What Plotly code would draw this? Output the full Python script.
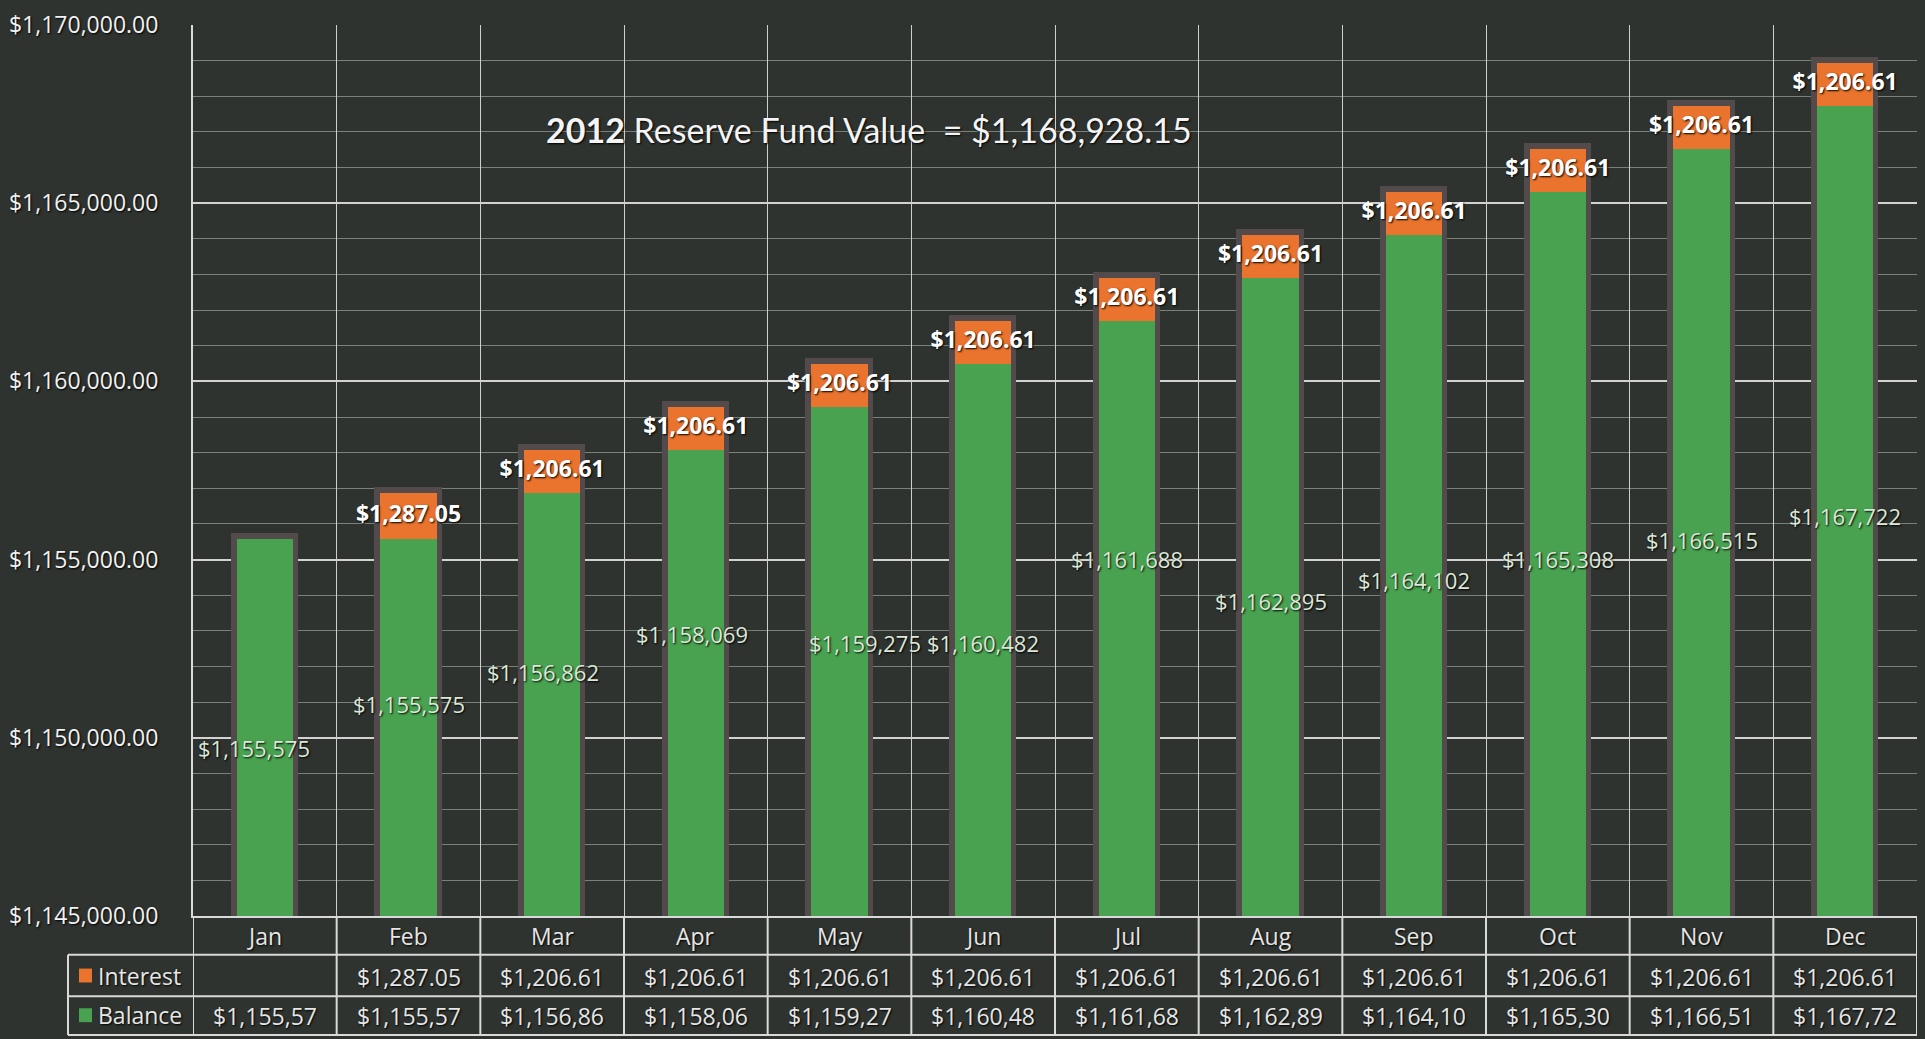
import plotly.graph_objects as go

# ---------------- data ----------------
months = ["Jan", "Feb", "Mar", "Apr", "May", "Jun", "Jul", "Aug", "Sep", "Oct", "Nov", "Dec"]
balance = [1155575, 1155575, 1156862, 1158069, 1159275, 1160482,
           1161688, 1162895, 1164102, 1165308, 1166515, 1167722]
interest = [None, 1287.05, 1206.61, 1206.61, 1206.61, 1206.61,
            1206.61, 1206.61, 1206.61, 1206.61, 1206.61, 1206.61]
y_ticks = [1145000, 1150000, 1155000, 1160000, 1165000, 1170000]
title_year = "2012"
title_rest = "Reserve Fund Value \u00a0= $1,168,928.15"
row_names = ["Interest", "Balance"]

# label nudges (pixels) for the balance labels, as placed in the original
bal_dy = [-20, 24, 33, 49, 19, -3, 60, -4, -4, -5, -7, -5]
bal_dx = [-11, 0, -9, -4, 25, 0, 0, 0, 0, 0, 0, 0]

# ---------------- style ----------------
W, H = 1925, 1039
L, R, T, B = 193, 1917, 18, 916
BG = "#2e332f"
GREEN = "#48a250"
ORANGE = "#ea742d"
FRAME = "#524a4b"
LINE = "#d9d9d9"
FONT = "Open Sans"
SHADOW = "1px 1px 2px #000000"


def px(x):
    return (x - L) / (R - L)


def py(y):
    return (B - y) / (B - T)


totals = [b + (i or 0) for b, i in zip(balance, interest)]

fig = go.Figure()
fig.add_trace(go.Bar(x=months, y=totals, width=0.39,
                     marker=dict(color=FRAME, line=dict(color=FRAME, width=11)),
                     hoverinfo="skip", showlegend=False))
fig.add_trace(go.Bar(x=months, y=balance, width=0.39, name="Balance",
                     marker=dict(color=GREEN, line=dict(width=0)), showlegend=False))
fig.add_trace(go.Bar(x=months, y=interest, base=balance, width=0.39, name="Interest",
                     marker=dict(color=ORANGE, line=dict(width=0)), showlegend=False))

# interest labels centred on the orange segments
ix = [m for m, i in zip(months, interest) if i is not None]
iy = [b + i / 2 for b, i in zip(balance, interest) if i is not None]
itxt = [f"${i:,.2f}" for i in interest if i is not None]
fig.add_trace(go.Scatter(x=ix, y=iy, mode="text", text=itxt, showlegend=False,
                         textfont=dict(family=FONT, size=23, color="#ffffff",
                                       weight="bold", shadow=SHADOW),
                         hoverinfo="skip", cliponaxis=False))

annotations = []
# balance labels
for k, (m, b) in enumerate(zip(months, balance)):
    annotations.append(dict(x=m, y=(y_ticks[0] + b) / 2, xref="x", yref="y",
                            text=f"${b:,}", showarrow=False,
                            xanchor="center", yanchor="middle",
                            xshift=bal_dx[k], yshift=bal_dy[k],
                            font=dict(family=FONT, size=22, color="#dde8d9", shadow=SHADOW)))

# title
annotations.append(dict(x=px(869), y=py(123), xref="paper", yref="paper",
                        xanchor="center", yanchor="middle",
                        text=f"<b>{title_year}</b> {title_rest}", showarrow=False,
                        font=dict(family="Lato", size=34, color="#f4f4f4", shadow=SHADOW)))

# data table text
TFONT = dict(family=FONT, size=23, color="#e6e6e6", shadow=SHADOW)
for k, m in enumerate(months):
    annotations.append(dict(x=k, y=py(936), xref="x", yref="paper", text=m,
                            xanchor="center", yanchor="middle", showarrow=False, font=TFONT))
    if interest[k] is not None:
        annotations.append(dict(x=k, y=py(977), xref="x", yref="paper",
                                text=f"${interest[k]:,.2f}", showarrow=False,
                                xanchor="center", yanchor="middle", font=TFONT))
    annotations.append(dict(x=k, y=py(1017), xref="x", yref="paper",
                            text=f"${balance[k]:,}"[:-1], showarrow=False,
                            xanchor="center", yanchor="middle", font=TFONT))

for name, yc in zip(row_names, [976, 1016]):
    annotations.append(dict(x=px(96), y=py(yc), xref="paper", yref="paper", text=name,
                            xanchor="left", yanchor="middle", showarrow=False, font=TFONT))

shapes = []
# table lines
for yl in [955, 997, 1036]:
    shapes.append(dict(type="line", xref="paper", yref="paper", x0=px(68), x1=px(1917),
                       y0=py(yl), y1=py(yl), line=dict(color=LINE, width=2)))
for k in range(13):
    shapes.append(dict(type="line", xref="x", yref="paper", x0=k - 0.5, x1=k - 0.5,
                       y0=py(916), y1=py(1036), line=dict(color=LINE, width=2)))
shapes.append(dict(type="line", xref="paper", yref="paper", x0=px(68), x1=px(68),
                   y0=py(955), y1=py(1036), line=dict(color=LINE, width=2)))
# legend keys
for col, yc in zip([ORANGE, GREEN], [976, 1016]):
    shapes.append(dict(type="rect", xref="paper", yref="paper",
                       x0=px(79), x1=px(92), y0=py(yc - 7), y1=py(yc + 7),
                       fillcolor=col, line=dict(width=0)))

fig.update_layout(
    width=W, height=H, barmode="overlay", bargap=0,
    paper_bgcolor=BG, plot_bgcolor=BG,
    margin=dict(l=L, r=W - R, t=T, b=H - B, pad=0),
    annotations=annotations, shapes=shapes,
    xaxis=dict(type="category", range=[-0.5, 11.5], showticklabels=False,
               showgrid=True, gridcolor="#cfcfcf", gridwidth=1, tickson="boundaries",
               ticks="", showline=True, linecolor=LINE, linewidth=2, zeroline=False),
    yaxis=dict(range=[y_ticks[0], y_ticks[-1]], tickvals=y_ticks,
               tickformat="$,.2f", showgrid=True, gridcolor="#d2d2d2", gridwidth=2,
               minor=dict(dtick=1000, tick0=y_ticks[0], showgrid=True,
                          gridcolor="#7a807a", gridwidth=1),
               showline=True, linecolor=LINE, linewidth=2, zeroline=False,
               ticks="", ticklabelstandoff=28,
               tickfont=dict(family=FONT, size=23, color="#f2f2f2", shadow=SHADOW)),
)

fig.write_html("out.html", config={"displayModeBar": False},
               post_script="document.body.style.margin='0';document.body.style.overflow='hidden';")
